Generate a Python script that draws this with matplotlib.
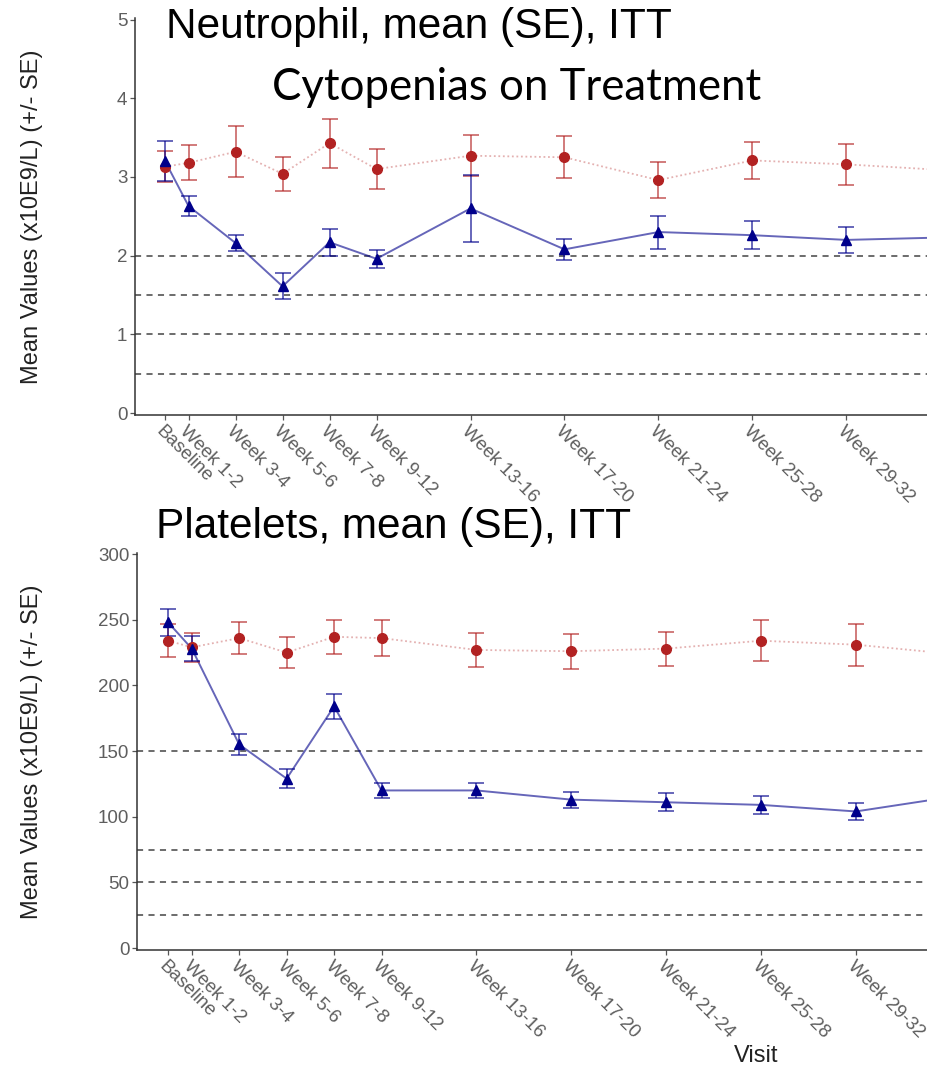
import matplotlib
matplotlib.use("Agg")
import matplotlib.pyplot as plt

# ---------------- data ----------------
weeks = [0, 1, 3, 5, 7, 9, 13, 17, 21, 25, 29, 33]
visit_labels = ['Baseline', 'Week 1-2', 'Week 3-4', 'Week 5-6', 'Week 7-8',
                'Week 9-12', 'Week 13-16', 'Week 17-20', 'Week 21-24',
                'Week 25-28', 'Week 29-32', 'Week 33-36']

neut_red_mean = [3.13, 3.18, 3.32, 3.04, 3.43, 3.10, 3.27, 3.25, 2.96, 3.21, 3.16, 3.09]
neut_red_se = [0.20, 0.225, 0.325, 0.215, 0.31, 0.255, 0.26, 0.265, 0.23, 0.235, 0.265, 0.25]
neut_blue_mean = [3.20, 2.63, 2.16, 1.61, 2.17, 1.96, 2.60, 2.08, 2.30, 2.26, 2.20, 2.23]
neut_blue_se = [0.255, 0.13, 0.105, 0.165, 0.17, 0.115, 0.425, 0.135, 0.21, 0.175, 0.165, 0.15]
neut_ref = [0.5, 1.0, 1.5, 2.0]
neut_yticks = [0, 1, 2, 3, 4, 5]

plt_red_mean = [234, 229, 236, 225, 237, 236, 227, 226, 228, 234, 231, 224]
plt_red_se = [12.5, 11, 12, 11.5, 13, 13.5, 13, 13.5, 13, 15.5, 16, 15]
plt_blue_mean = [248, 228, 155, 129, 184, 120, 120, 113, 111, 109, 104, 115]
plt_blue_se = [10.5, 9.5, 8, 7.5, 9.7, 6, 6, 6, 7, 7, 6.3, 6]
plt_ref = [25, 50, 75, 150]
plt_yticks = [0, 50, 100, 150, 200, 250, 300]

# ---------------- style ----------------
W, H = 927, 1068
fig = plt.figure(figsize=(W / 100, H / 100), dpi=100)

AX_FONT = ['Liberation Sans', 'DejaVu Sans']
CAL_FONT = ['Lato', 'DejaVu Sans']
RED = '#b22222'
BLUE = '#00008b'
TICK_COL = '#5e5e5e'


def panel(rect, xlim, ylim, yticks, red_m, red_se, blue_m, blue_se, refs):
    ax = fig.add_axes(rect)
    for r in refs:
        ax.axhline(r, color='#444444', lw=1.1, ls=(0, (4, 3.5)), zorder=1)
    ax.plot(weeks, red_m, color=RED, alpha=0.35, lw=1.3,
            ls=(0, (1, 1.5)), zorder=2)
    ax.errorbar(weeks, red_m, yerr=red_se, fmt='none', ecolor=RED, alpha=0.6,
                elinewidth=1.4, capsize=6, capthick=1.4, zorder=3)
    ax.plot(weeks, red_m, 'o', color=RED, ms=7, zorder=4)
    ax.plot(weeks, blue_m, '-', color=BLUE, alpha=0.6, lw=1.4, zorder=2)
    ax.errorbar(weeks, blue_m, yerr=blue_se, fmt='none', ecolor=BLUE, alpha=0.6,
                elinewidth=1.4, capsize=6, capthick=1.4, zorder=3)
    ax.plot(weeks, blue_m, '^', color=BLUE, ms=7, zorder=4)
    ax.set_yticks(yticks)
    ax.set_yticklabels([str(t) for t in yticks], fontfamily=AX_FONT,
                       fontsize=13.5, color=TICK_COL)
    ax.set_xticks(weeks)
    ax.set_xticklabels(visit_labels, rotation=-45, ha='left', va='top',
                       rotation_mode='anchor', fontfamily=AX_FONT,
                       fontsize=13.5, color=TICK_COL)
    ax.set_xlim(*xlim)
    ax.set_ylim(*ylim)
    for s in ['top', 'right']:
        ax.spines[s].set_visible(False)
    for s in ['left', 'bottom']:
        ax.spines[s].set_color('#333333')
        ax.spines[s].set_linewidth(1.1)
    ax.tick_params(axis='both', length=3.5, width=0.9, color='#555555', pad=2)
    ax.set_ylabel('Mean Values (x10E9/L) (+/- SE)', fontfamily=AX_FONT,
                  fontsize=17, color='#222222')
    ax.patch.set_alpha(0)
    return ax


ax1 = panel([135 / W, 1 - 415 / H, 1 - 135 / W, (415 - 18) / H],
            (-1.28, 32.43), (-0.025, 5.02), neut_yticks,
            neut_red_mean, neut_red_se, neut_blue_mean, neut_blue_se, neut_ref)
ax1.yaxis.set_label_coords((43 - 135) / (W - 135), 0.5)

ax2 = panel([137 / W, 1 - 950 / H, 1 - 137 / W, (950 - 553) / H],
            (-1.31, 32.0), (-1.5, 300.8), plt_yticks,
            plt_red_mean, plt_red_se, plt_blue_mean, plt_blue_se, plt_ref)
ax2.yaxis.set_label_coords((43 - 137) / (W - 137), 0.5)

fig.text(166 / W, 1 - 27 / H, 'Neutrophil, mean (SE), ITT', fontfamily=AX_FONT,
         fontsize=30.5, color='black', ha='left', va='center')
fig.text(272 / W, 1 - 88 / H, 'Cytopenias on Treatment', fontfamily=CAL_FONT,
         fontsize=31.5, color='black', ha='left', va='center')
fig.text(156 / W, 1 - 527 / H, 'Platelets, mean (SE), ITT', fontfamily=AX_FONT,
         fontsize=30.5, color='black', ha='left', va='center')
fig.text(756 / W, 1 - 1056 / H, 'Visit', fontfamily=AX_FONT, fontsize=17,
         color='#222222', ha='center', va='center')

fig.savefig('out.png', dpi=100, facecolor='white')
